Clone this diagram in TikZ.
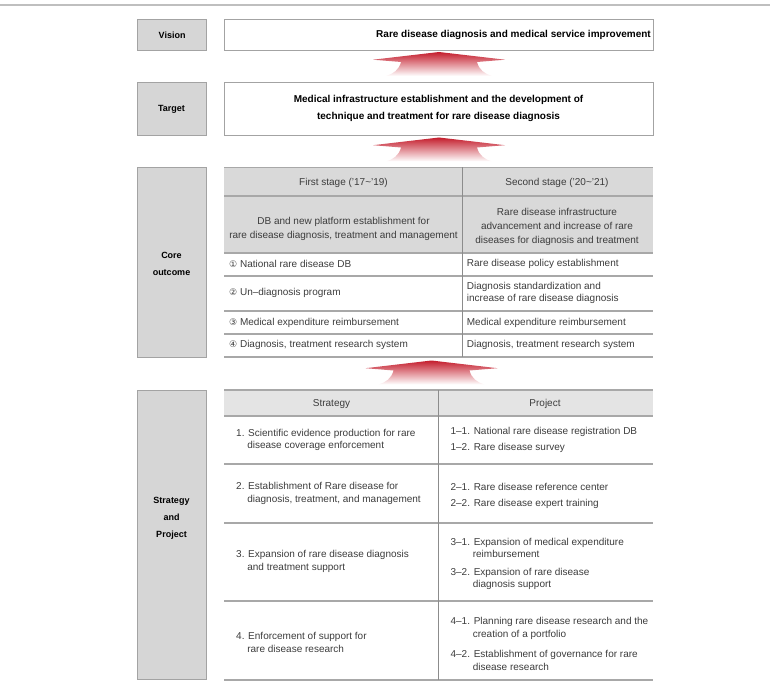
\documentclass[tikz,border=0pt]{standalone}
\usepackage{fontspec}
\setmainfont{Liberation Sans}
\newfontfamily\dejavu{DejaVu Sans}
\definecolor{lbfill}{HTML}{D6D6D6}
\definecolor{lbdraw}{HTML}{A3A3A3}
\definecolor{hdfill}{HTML}{D9D9D9}
\definecolor{hdtwofill}{HTML}{E4E4E4}
\definecolor{rulec}{HTML}{A8A8A8}
\definecolor{divc}{HTML}{8C8C8C}
\definecolor{txt}{HTML}{3C3C3C}
\definecolor{arrred}{HTML}{C41E2D}
\newcommand{\cnum}[1]{{\dejavu\fontsize{9}{9}\selectfont #1}}
\begin{document}
\begin{tikzpicture}[x=1pt,y=-1pt,
  labelbox/.style={draw=lbdraw, line width=1.2pt, fill=lbfill, inner sep=0pt, anchor=north west},
  mainbox/.style={draw=lbdraw, line width=1.2pt, fill=white, inner sep=0pt, anchor=north west},
  lbltext/.style={font=\fontsize{9}{17}\selectfont\bfseries, align=center, inner sep=0pt},
  boldtext/.style={font=\fontsize{10}{17}\selectfont\bfseries, align=center, inner sep=0pt},
  ttext/.style={font=\fontsize{10}{12.6}\selectfont, text=txt, inner sep=0pt, align=left, anchor=west},
  htext/.style={font=\fontsize{10}{14}\selectfont, text=txt, inner sep=0pt, align=center},
  hrule/.style={draw=rulec, line width=1.4pt},
  vrule/.style={draw=divc, line width=0.9pt},
  bigarrow/.pic={
    \shade[top color=arrred, middle color=arrred!35, bottom color=white]
      (0,0) -- (66,7.7) -- (38,10) .. controls (40,18) and (46,22) .. (53,24)
      -- (-53,24) .. controls (-46,22) and (-40,18) .. (-38,10) -- (-66,7.7) -- cycle;
  }
]
\useasboundingbox (0,0) rectangle (770,684);
% top rule
\draw[draw=black!25, line width=2pt] (0,5) -- (770,5);

% Vision
\node[labelbox, minimum width=69pt, minimum height=31pt] (visL) at (137,19) {};
\node[lbltext] (visLt) at (visL.center) {Vision};
\node[mainbox, minimum width=429pt, minimum height=31pt] (visM) at (224,19) {};
\node[boldtext, anchor=east] (visMt) at (651,34.5) {Rare disease diagnosis and medical service improvement};

\pic (arrA) at (439,52) {bigarrow};

% Target
\node[labelbox, minimum width=69pt, minimum height=53pt] (tgtL) at (137,82) {};
\node[lbltext] (tgtLt) at (171.5,109.5) {Target};
\node[mainbox, minimum width=429pt, minimum height=53pt] (tgtM) at (224,82) {};
\node[boldtext] (tgtMt) at (438.5,108.5) {Medical infrastructure establishment and the development of\\technique and treatment for rare disease diagnosis};

\pic (arrB) at (439,137.5) {bigarrow};

% Core outcome
\node[labelbox, minimum width=69pt, minimum height=190pt] (coreL) at (137,167) {};
\node[lbltext] (coreLt) at (171.5,264.2) {Core\\outcome};

\fill[hdfill] (224,167.5) rectangle (653,253);
\draw[hrule] (224,167.5) -- (653,167.5);
\draw[hrule] (224,196) -- (653,196);
\draw[hrule] (224,253) -- (653,253);
\draw[hrule] (224,276) -- (653,276);
\draw[hrule] (224,311) -- (653,311);
\draw[hrule] (224,334) -- (653,334);
\draw[hrule] (224,357) -- (653,357);
\draw[vrule] (462,167.5) -- (462,357);

\node[htext] (h1a) at (343.5,182.5) {First stage (’17\textasciitilde’19)};
\node[htext] (h1b) at (557,182.5) {Second stage (’20\textasciitilde’21)};
\node[htext, font=\fontsize{10}{14.3}\selectfont] (h2a) at (343.5,228.8) {DB and new platform establishment for\\rare disease diagnosis, treatment and management};
\node[htext] (h2b) at (557,227.3) {Rare disease infrastructure\\advancement and increase of rare\\diseases for diagnosis and treatment};

\node[ttext] (r1a) at (229,263.7) {\cnum{①} National rare disease DB};
\node[ttext] (r1b) at (466.7,263.7) {Rare disease policy establishment};
\node[ttext] (r2a) at (229,293.3) {\cnum{②} Un–diagnosis program};
\node[ttext, font=\fontsize{10}{12.3}\selectfont] (r2b) at (466.7,292.8) {Diagnosis standardization and\\increase of rare disease diagnosis};
\node[ttext] (r3a) at (229,322.7) {\cnum{③} Medical expenditure reimbursement};
\node[ttext] (r3b) at (466.7,322.7) {Medical expenditure reimbursement};
\node[ttext] (r4a) at (229,345) {\cnum{④} Diagnosis, treatment research system};
\node[ttext] (r4b) at (466.7,345) {Diagnosis, treatment research system};

\pic (arrC) at (431.5,360.5) {bigarrow};

% Strategy and Project
\node[labelbox, minimum width=69pt, minimum height=289pt] (strL) at (137,390) {};
\node[lbltext] (strLt) at (171.5,518.7) {Strategy\\and\\Project};

\fill[hdtwofill] (224,390) rectangle (653,416);
\draw[hrule] (224,390) -- (653,390);
\draw[hrule] (224,416) -- (653,416);
\draw[hrule] (224,464) -- (653,464);
\draw[hrule] (224,523) -- (653,523);
\draw[hrule] (224,601) -- (653,601);
\draw[hrule] (224,680) -- (653,680);
\draw[vrule] (438,390) -- (438,680);

\node[htext] (sh) at (331.5,404.3) {Strategy};
\node[htext] (ph) at (545,404.3) {Project};

\node[ttext] (s1) at (236,439.9) {1. Scientific evidence production for rare\\\phantom{1.}\ disease coverage enforcement};
\node[ttext] (p11) at (450.4,431.7) {1–1. National rare disease registration DB};
\node[ttext] (p12) at (450.4,448.3) {1–2. Rare disease survey};

\node[ttext, font=\fontsize{10}{13}\selectfont] (s2) at (236,493.8) {2. Establishment of Rare disease for\\\phantom{2.}\ diagnosis, treatment, and management};
\node[ttext] (p21) at (450.4,487.3) {2–1. Rare disease reference center};
\node[ttext] (p22) at (450.4,504) {2–2. Rare disease expert training};

\node[ttext, font=\fontsize{10}{13}\selectfont] (s3) at (236,561.8) {3. Expansion of rare disease diagnosis\\\phantom{3.}\ and treatment support};
\node[ttext] (p31) at (450.4,547.9) {3–1. Expansion of medical expenditure\\\phantom{3–1.}\ reimbursement};
\node[ttext] (p32) at (450.4,579) {3–2. Expansion of rare disease\\\phantom{3–2.}\ diagnosis support};

\node[ttext] (s4) at (236,642.4) {4. Enforcement of support for\\\phantom{4.}\ rare disease research};
\node[ttext, font=\fontsize{10}{13}\selectfont] (p41) at (450.4,628.8) {4–1. Planning rare disease research and the\\\phantom{4–1.}\ creation of a portfolio};
\node[ttext, font=\fontsize{10}{12.7}\selectfont] (p42) at (450.4,660.4) {4–2. Establishment of governance for rare\\\phantom{4–2.}\ disease research};
\end{tikzpicture}
\end{document}
